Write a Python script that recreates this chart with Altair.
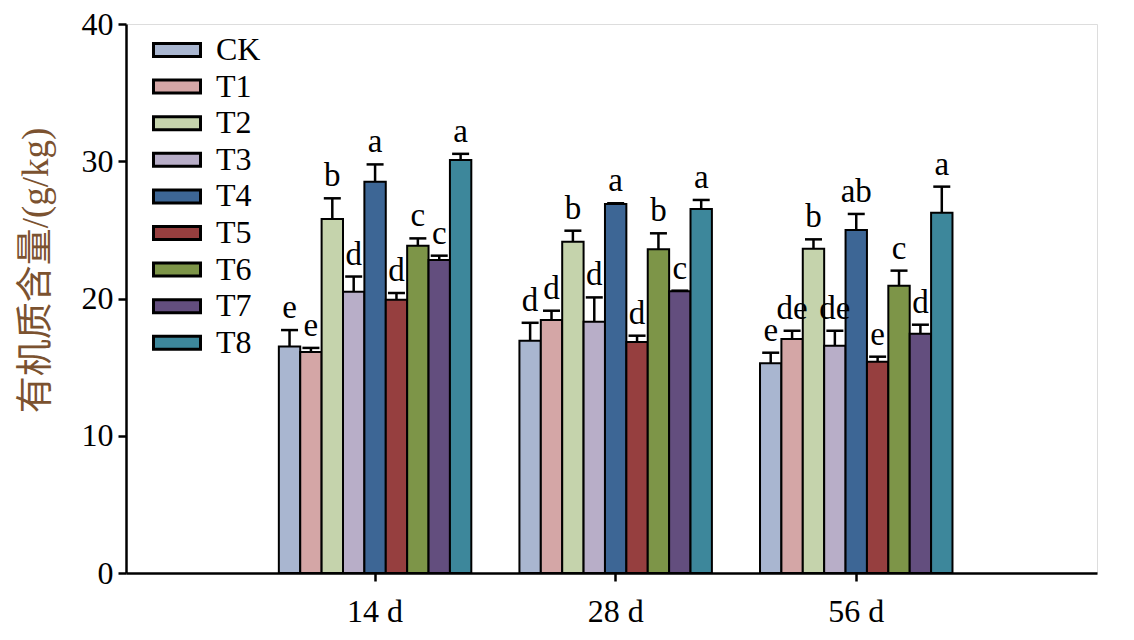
import altair as alt
import pandas as pd

groups = ["14 d", "28 d", "56 d"]
treatments = ["CK", "T1", "T2", "T3", "T4", "T5", "T6", "T7", "T8"]
colors = ["#A9B6D0", "#D4A6A6", "#C5D3AC", "#B8AEC8", "#3D6695", "#963F3F", "#7D9548", "#634E7E", "#3D879B"]

means_14 = [16.5, 16.1, 25.8, 20.5, 28.5, 19.9, 23.85, 22.8, 30.1]
err_14 = [1.2, 0.3, 1.5, 1.1, 1.27, 0.5, 0.53, 0.32, 0.44]
letters_14 = ["e", "e", "b", "d", "a", "d", "c", "c", "a"]

means_28 = [16.93, 18.43, 24.14, 18.31, 26.89, 16.83, 23.58, 20.52, 26.52]
err_28 = [1.3, 0.68, 0.8, 1.77, 0.05, 0.46, 1.17, 0.05, 0.66]
letters_28 = ["d", "d", "b", "d", "a", "d", "b", "c", "a"]

means_56 = [15.28, 17.05, 23.63, 16.56, 24.99, 15.4, 20.93, 17.44, 26.25]
err_56 = [0.77, 0.6, 0.68, 1.09, 1.17, 0.36, 1.1, 0.65, 1.9]
letters_56 = ["e", "de", "b", "de", "ab", "e", "c", "d", "a"]

rows = []
for g, ms, es, ls in zip(groups, [means_14, means_28, means_56],
                         [err_14, err_28, err_56],
                         [letters_14, letters_28, letters_56]):
    for t, m, e, l in zip(treatments, ms, es, ls):
        rows.append({"group": g, "treatment": t, "mean": m, "top": m + e, "letter": l})
df = pd.DataFrame(rows)

FONT = "Liberation Serif"
TFONT = "Liberation Serif, Noto Sans CJK SC"

x_enc = alt.X("group:N", sort=groups,
              scale=alt.Scale(paddingInner=0.2, paddingOuter=0.618, align=0.514),
              axis=alt.Axis(title=None, labelAngle=0, labelFontSize=32, labelFont=FONT,
                            labelColor="black", tickSize=8, tickWidth=2.5, tickColor="black",
                            domainColor="black", domainWidth=2.5, labelPadding=15, grid=False))
xo_enc = alt.XOffset("treatment:N", sort=treatments, scale=alt.Scale(paddingInner=0, paddingOuter=0))
y_scale = alt.Scale(domain=[0, 40], nice=False)

bars = alt.Chart(df).mark_bar(stroke="black", strokeWidth=2, opacity=1).encode(
    x=x_enc,
    xOffset=xo_enc,
    y=alt.Y("mean:Q", scale=y_scale,
            axis=alt.Axis(title="有机质含量/(g/kg)", values=[0, 10, 20, 30, 40], grid=False,
                          labelFontSize=32, labelFont=FONT, labelColor="black",
                          tickSize=8, tickWidth=2.5, tickColor="black",
                          domainColor="black", domainWidth=2.5, labelPadding=5,
                          titleFont=TFONT, titleFontSize=37, titleFontWeight="normal",
                          titleColor="#7B5230", titlePadding=26, titleY=246)),
    color=alt.Color("treatment:N", sort=treatments,
                    scale=alt.Scale(domain=treatments, range=colors),
                    legend=alt.Legend(title=None, orient="none", legendX=35, legendY=10,
                                      labelFont=FONT, labelFontSize=32, labelColor="black",
                                      symbolType="M-2.35,-0.65L2.35,-0.65L2.35,0.65L-2.35,0.65Z",
                                      symbolSize=400, symbolStrokeColor="black",
                                      symbolStrokeWidth=3, symbolOpacity=1,
                                      labelOffset=23, rowPadding=4.6, padding=0)),
)

rules = alt.Chart(df).mark_rule(color="black", strokeWidth=2.5).encode(
    x=alt.X("group:N", sort=groups), xOffset=alt.XOffset("treatment:N", sort=treatments),
    y=alt.Y("mean:Q", scale=y_scale), y2="top:Q")

caps = alt.Chart(df).mark_tick(color="black", thickness=2.5, size=17, opacity=1).encode(
    x=alt.X("group:N", sort=groups), xOffset=alt.XOffset("treatment:N", sort=treatments),
    y=alt.Y("top:Q", scale=y_scale))

labels = alt.Chart(df).mark_text(font=FONT, fontSize=33, color="black", baseline="alphabetic",
                                 dy=-12).encode(
    x=alt.X("group:N", sort=groups), xOffset=alt.XOffset("treatment:N", sort=treatments),
    y=alt.Y("top:Q", scale=y_scale), text="letter:N")

chart = alt.layer(bars, rules, caps, labels).properties(
    width=971, height=549,
    autosize=alt.AutoSizeParams(type="none"),
    padding={"left": 118, "top": 16, "right": 20, "bottom": 64},
).configure_view(stroke="black", strokeWidth=2.5).configure(background="white")

chart.save("out.html", embed_options={"renderer": "svg", "actions": False})
